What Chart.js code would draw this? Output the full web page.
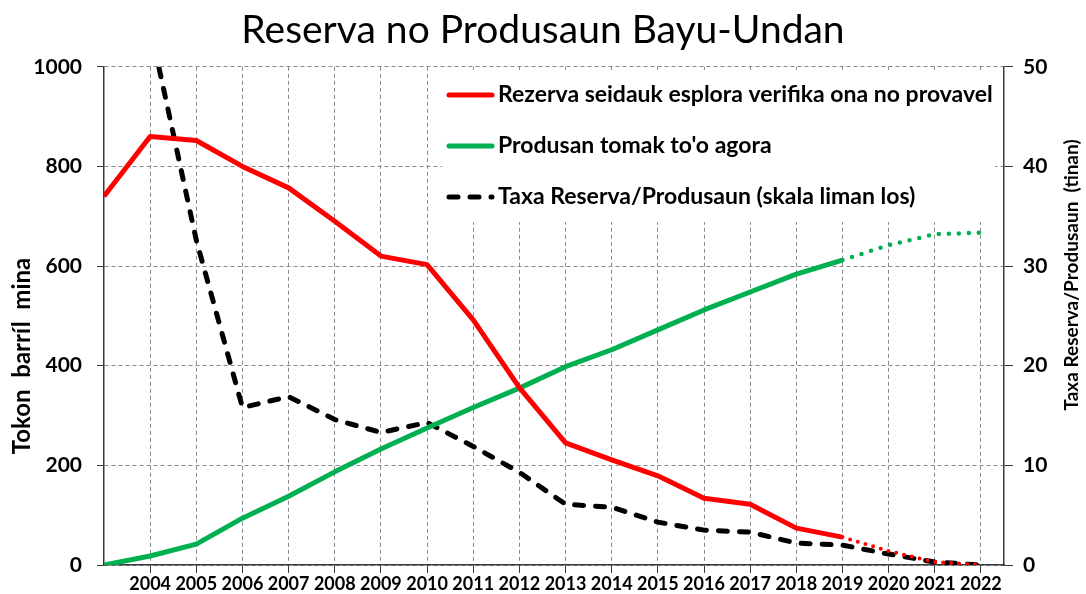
<!DOCTYPE html>
<html>
<head>
<meta charset="utf-8">
<script src="https://cdn.jsdelivr.net/npm/chart.js@4.4.1/dist/chart.umd.min.js"></script>
<style>
  body { margin: 0; background: #fff; }
  #wrap { width: 1086px; height: 594px; position: relative; }
</style>
</head>
<body>
<div id="wrap"><canvas id="reserve-chart"></canvas></div>
<script>
// years on the x axis
const years = [2003, 2004, 2005, 2006, 2007, 2008, 2009, 2010, 2011, 2012,
               2013, 2014, 2015, 2016, 2017, 2018, 2019, 2020, 2021, 2022];
// million barrels, left axis
const reserves = [740, 860, 852, 800, 757, 690, 620, 603, 492, 356,
                  245, 211, 179, 134, 122, 74, 56, 28, 6, 0];
const cumulativeProduction = [0, 18, 42, 94, 138, 187, 233, 275, 316, 355,
                              398, 432, 472, 512, 548, 584, 612, 642, 664, 667];
// years, right axis
const reserveToProduction = [null, 54, 32.6, 15.8, 16.9, 14.6, 13.3, 14.3, 11.9, 9.3,
                             6.1, 5.8, 4.3, 3.5, 3.3, 2.2, 2.0, 1.1, 0.3, 0];
const projectionFrom = 2019;

const leftTicks = [0, 200, 400, 600, 800, 1000];
const rightTicks = [0, 10, 20, 30, 40, 50];

const seriesNames = [
    'Rezerva seidauk esplora verifika ona no provavel',
    "Produsan tomak to'o agora",
    'Taxa Reserva/Produsaun (skala liman los)'
];

const RED = '#ff0000';
const GREEN = '#00b050';
const GRID = '#8a8a8a';
const AXIS = '#3a3a3a';
const FONT = 'Lato, "Open Sans", sans-serif';

function toPoints(values) {
    return years.map((y, i) => ({ x: y, y: values[i] }));
}

const dotted = (ctx, dash) => ctx.p0.parsed.x >= projectionFrom ? dash : undefined;

// legend box + axis titles drawn by hand to match the original layout
const extras = {
    id: 'extras',
    beforeDatasetsDraw(chart) {
        const c = chart.ctx;
        c.save();
        c.fillStyle = '#fff';
        c.fillRect(442, 70, 553, 152);
        const rows = [
            { color: RED, dash: [] },
            { color: GREEN, dash: [] },
            { color: '#000', dash: [9, 12] }
        ];
        rows.forEach((r, i) => {
            const y = 95 + i * 51;
            c.beginPath();
            c.strokeStyle = r.color;
            c.lineWidth = 5;
            c.lineCap = 'round';
            c.setLineDash(r.dash);
            c.moveTo(449, y);
            c.lineTo(492, y);
            c.stroke();
            c.setLineDash([]);
            c.fillStyle = '#000';
            c.font = 'bold 23px ' + FONT;
            c.textBaseline = 'middle';
            c.textAlign = 'left';
            c.fillText(seriesNames[i], 498, y);
        });
        c.restore();
    },
    afterDraw(chart) {
        const c = chart.ctx;
        c.save();
        c.fillStyle = '#000';
        c.textAlign = 'center';
        c.textBaseline = 'middle';
        c.font = 'bold 24px ' + FONT;
        c.translate(22, 356);
        c.rotate(-Math.PI / 2);
        c.fillText('Tokon  barríl  mina', 0, 0);
        c.restore();
        c.save();
        c.fillStyle = '#000';
        c.textAlign = 'center';
        c.textBaseline = 'middle';
        c.font = 'bold 19px ' + FONT;
        c.translate(1072, 275);
        c.rotate(-Math.PI / 2);
        c.fillText('Taxa Reserva/Produsaun  (tinan)', 0, 0);
        c.restore();
    }
};

new Chart(document.getElementById('reserve-chart'), {
    type: 'line',
    data: {
        datasets: [
            {
                label: seriesNames[0],
                data: toPoints(reserves),
                yAxisID: 'y',
                borderColor: RED,
                borderWidth: 5,
                borderJoinStyle: 'round',
                pointRadius: 0,
                segment: {
                    borderDash: ctx => dotted(ctx, [0, 8]),
                    borderWidth: ctx => dotted(ctx, 4),
                    borderCapStyle: ctx => dotted(ctx, 'round')
                }
            },
            {
                label: seriesNames[1],
                data: toPoints(cumulativeProduction),
                yAxisID: 'y',
                borderColor: GREEN,
                borderWidth: 5,
                borderJoinStyle: 'round',
                pointRadius: 0,
                segment: {
                    borderDash: ctx => dotted(ctx, [0, 10]),
                    borderWidth: ctx => dotted(ctx, 4.5),
                    borderCapStyle: ctx => dotted(ctx, 'round')
                }
            },
            {
                label: seriesNames[2],
                data: toPoints(reserveToProduction),
                yAxisID: 'y2',
                borderColor: '#000',
                borderWidth: 5,
                borderDash: [9, 12],
                borderCapStyle: 'round',
                borderJoinStyle: 'round',
                pointRadius: 0,
                spanGaps: false
            }
        ]
    },
    options: {
        responsive: true,
        maintainAspectRatio: false,
        animation: false,
        layout: { padding: 0 },
        plugins: {
            legend: { display: false },
            tooltip: { enabled: false },
            title: {
                display: true,
                text: 'Reserva no Produsaun Bayu-Undan',
                color: '#000',
                font: { family: FONT, size: 39, weight: 'normal' },
                padding: { top: 7, bottom: 13 }
            }
        },
        scales: {
            x: {
                type: 'linear',
                min: years[0],
                max: years[years.length - 1] + 0.5,
                afterBuildTicks: s => { s.ticks = years.slice(1).map(v => ({ value: v })); },
                afterFit: s => { s.height = 29; },
                ticks: {
                    color: '#000',
                    font: { family: FONT, size: 18, weight: 'bold' },
                    padding: 0,
                    maxRotation: 0,
                    autoSkip: false,
                    callback: v => String(v)
                },
                grid: { color: GRID, tickColor: AXIS, tickLength: 8, lineWidth: 1 },
                border: { display: true, color: AXIS, width: 1.5, dash: [4, 3] }
            },
            y: {
                position: 'left',
                min: leftTicks[0],
                max: leftTicks[leftTicks.length - 1],
                afterBuildTicks: s => { s.ticks = leftTicks.map(v => ({ value: v })); },
                afterFit: s => { s.width = 104; },
                ticks: {
                    color: '#000',
                    font: { family: FONT, size: 21, weight: 'bold' },
                    padding: 15,
                    callback: v => String(v)
                },
                grid: { color: GRID, tickColor: AXIS, tickLength: 7, lineWidth: 1 },
                border: { display: true, color: AXIS, width: 1.5, dash: [4, 3] }
            },
            y2: {
                position: 'right',
                min: rightTicks[0],
                max: rightTicks[rightTicks.length - 1],
                afterBuildTicks: s => { s.ticks = rightTicks.map(v => ({ value: v })); },
                afterFit: s => { s.width = 82; },
                ticks: {
                    color: '#000',
                    font: { family: FONT, size: 21, weight: 'bold' },
                    padding: 10,
                    callback: v => String(v)
                },
                grid: { drawOnChartArea: false, color: AXIS, tickColor: AXIS, tickLength: 9 },
                border: { display: true, color: AXIS, width: 1.5 }
            }
        }
    },
    plugins: [extras]
});
</script>
</body>
</html>
